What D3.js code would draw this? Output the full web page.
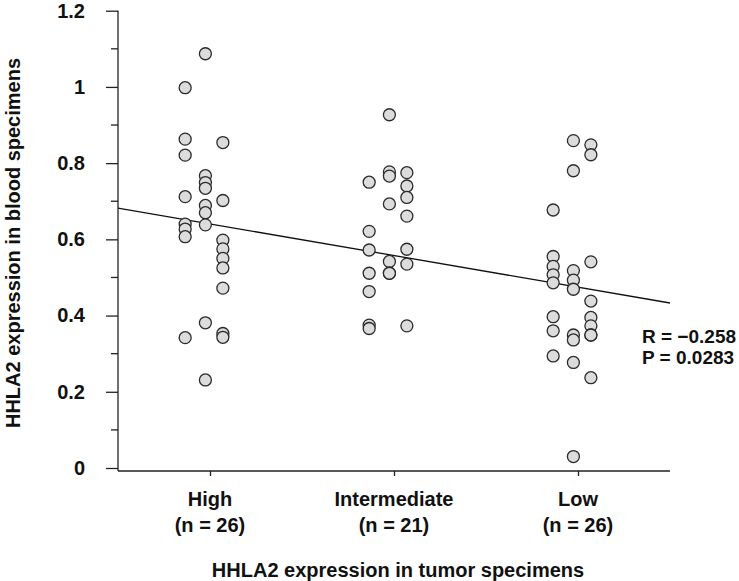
<!DOCTYPE html>
<html><head><meta charset="utf-8">
<script src="https://cdn.jsdelivr.net/npm/d3@7"></script>
<style>body{margin:0;background:#fff;} svg{display:block;font-family:"Liberation Sans",Arial,sans-serif;}</style>
</head><body>
<svg id="c" width="739" height="581"></svg>
<script>
const categories = ["High", "Intermediate", "Low"];
const counts = [26, 21, 26];
const highValues = {
  left:   [0.998, 0.863, 0.821, 0.712, 0.640, 0.627, 0.607, 0.342],
  middle: [1.087, 0.767, 0.749, 0.734, 0.689, 0.670, 0.638, 0.381, 0.231],
  right:  [0.854, 0.702, 0.598, 0.575, 0.550, 0.525, 0.472, 0.353, 0.343]
};
const intermediateValues = {
  left:   [0.750, 0.621, 0.572, 0.511, 0.463, 0.375, 0.366],
  middle: [0.927, 0.777, 0.766, 0.693, 0.542, 0.511, 0.511],
  right:  [0.775, 0.740, 0.710, 0.661, 0.574, 0.535, 0.373]
};
const lowValues = {
  left:   [0.677, 0.555, 0.529, 0.507, 0.486, 0.397, 0.360, 0.294],
  middle: [0.859, 0.780, 0.518, 0.493, 0.469, 0.349, 0.336, 0.277, 0.030],
  right:  [0.848, 0.822, 0.541, 0.438, 0.395, 0.373, 0.349, 0.349, 0.237]
};
const yTicks = [0, 0.2, 0.4, 0.6, 0.8, 1, 1.2];
const yMinorTicks = [0.1, 0.3, 0.5, 0.7, 0.9, 1.1];
const regression = { x0: 0.5, y0: 0.682, x1: 3.5, y1: 0.433 };
const stats = ["R = \u22120.258", "P = 0.0283"];

const svg = d3.select("#c");
const x = d3.scaleLinear().domain([0.5, 3.5]).range([118, 670]);
const y = d3.scaleLinear().domain([0, 1.2]).range([468, 10.7]);
const colOffset = { left: -0.135, middle: -0.025, right: 0.07 };
const FS = 20;

// y axis
const yAxisG = svg.append("g").attr("transform", "translate(118,0)");
yAxisG.call(d3.axisLeft(y).tickValues(yTicks).tickSize(12).tickPadding(21)
  .tickFormat(d => d === 0 ? "0" : String(+d.toFixed(1))));
yAxisG.selectAll("line.minor").data(yMinorTicks).enter().append("line")
  .attr("class","minor").attr("x1",-7).attr("x2",0)
  .attr("y1",d=>y(d)).attr("y2",d=>y(d));
yAxisG.select(".domain").remove();
yAxisG.append("line").attr("x1",0).attr("x2",0).attr("y1",y(1.2)).attr("y2",471);
yAxisG.selectAll("line").attr("stroke","#222").attr("stroke-width",1.3);
yAxisG.selectAll("text").attr("font-size",FS).attr("font-weight","bold").attr("fill","#111")
  .attr("font-family","Liberation Sans, Arial, sans-serif");

// x axis
const xAxisG = svg.append("g").attr("transform","translate(0,471)");
xAxisG.call(d3.axisBottom(x).tickValues([1,2,3]).tickSize(5).tickFormat(""));
xAxisG.select(".domain").remove();
xAxisG.append("line").attr("x1",118).attr("x2",670).attr("y1",0).attr("y2",0);
xAxisG.selectAll("line").attr("stroke","#222").attr("stroke-width",1.3);
categories.forEach((c,i)=>{
  const t = svg.append("text").attr("x", x(i+1)).attr("text-anchor","middle")
    .attr("font-size",FS).attr("font-weight","bold").attr("fill","#111");
  t.append("tspan").attr("x", x(i+1)).attr("y",506).text(c);
  t.append("tspan").attr("x", x(i+1)).attr("y",532).text("(n = " + counts[i] + ")");
});

// axis titles
svg.append("text").attr("x",398).attr("y",577).attr("text-anchor","middle")
  .attr("font-size",FS).attr("font-weight","bold").attr("fill","#111")
  .text("HHLA2 expression in tumor specimens");
svg.append("text").attr("transform","translate(20,243) rotate(-90)").attr("text-anchor","middle")
  .attr("font-size",FS).attr("font-weight","bold").attr("fill","#111")
  .text("HHLA2 expression in blood specimens");

// regression line
svg.append("line").attr("x1",x(regression.x0)).attr("y1",y(regression.y0))
  .attr("x2",x(regression.x1)).attr("y2",y(regression.y1))
  .attr("stroke","#111").attr("stroke-width",1.3);

// points
const groups = [highValues, intermediateValues, lowValues];
const pts = [];
groups.forEach((g,i)=>{
  ["left","middle","right"].forEach(col=>{
    g[col].forEach(v=>pts.push({cx: i+1+colOffset[col], v}));
  });
});
svg.append("g").selectAll("circle").data(pts).enter().append("circle")
  .attr("cx",d=>x(d.cx)).attr("cy",d=>y(d.v)).attr("r",6)
  .attr("fill","#dcdcdc").attr("stroke","#2a2a2a").attr("stroke-width",1.3);

// stats
stats.forEach((s,i)=>{
  svg.append("text").attr("x",642).attr("y",343+i*21)
    .attr("font-size",19).attr("font-weight","bold").attr("fill","#111").text(s);
});
</script>
</body></html>
